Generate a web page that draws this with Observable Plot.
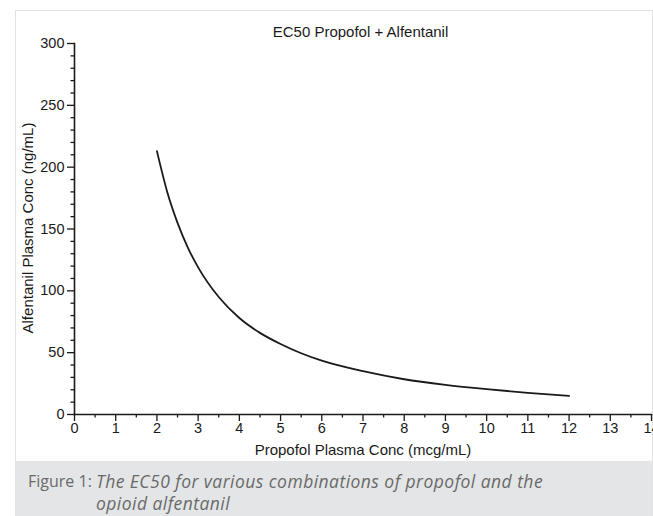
<!DOCTYPE html>
<html><head><meta charset="utf-8">
<script src="https://cdn.jsdelivr.net/npm/d3@7"></script>
<script src="https://cdn.jsdelivr.net/npm/@observablehq/plot@0.6"></script>
<style>
html,body{margin:0;padding:0;background:#fff;overflow:hidden;width:653px;height:516px}
#fig{position:absolute;left:15px;top:10px;width:636px;border:1px solid #e2e2e2;border-bottom:none;background:#fff}
#chart svg{display:block;overflow:visible}
#cap{background:#e4e5e6;height:60px;padding:9px 0 0 12px;box-sizing:border-box;display:flex;font-family:"Open Sans",sans-serif;font-size:16px;line-height:22px;color:#6a6a6a}
#cap .it{font-style:italic;font-size:17.5px;letter-spacing:0.45px}
</style></head><body>
<div id="fig"><div id="chart"></div><div id="cap"><span>Figure 1:&nbsp;</span><span class="it">The EC50 for various combinations of propofol and the<br>opioid alfentanil</span></div></div>
<script>
// Propofol plasma concentration (mcg/mL)
const propofol = [2, 2.25, 2.5, 2.75, 3, 3.5, 4, 4.5, 5, 5.5, 6, 7, 8, 9, 10, 11, 12];
// Alfentanil plasma concentration at EC50 (ng/mL)
const alfentanil = [213, 180, 155, 135, 119, 95, 78, 66, 57, 49.5, 43.5, 35, 28.5, 24, 20.5, 17.5, 15];
const xTicks = [0,1,2,3,4,5,6,7,8,9,10,11,12,13,14];
const xMinorTicks = [0.5,1.5,2.5,3.5,4.5,5.5,6.5,7.5,8.5,9.5,10.5,11.5,12.5,13.5];
const yTicks = [0,50,100,150,200,250,300];
const yMinorTicks = [10,20,30,40,60,70,80,90,110,120,130,140,160,170,180,190,210,220,230,240,260,270,280,290];
const title = "EC50 Propofol + Alfentanil";
const xLabel = "Propofol Plasma Conc (mcg/mL)";
const yLabel = "Alfentanil Plasma Conc (ng/mL)";

const data = propofol.map((x, i) => ({x, y: alfentanil[i]}));
const ink = "#1a1a1a";
const font = "'Liberation Sans', Arial, sans-serif";
const chart = Plot.plot({
  width: 636, height: 450,
  marginLeft: 58, marginRight: 1, marginTop: 32, marginBottom: 47,
  style: {fontFamily: font, fontSize: "14.5px", color: ink, background: "white"},
  x: {domain: [0, 14]},
  y: {domain: [0, 300]},
  marks: [
    Plot.axisX(xMinorTicks, {tickSize: 3.5, strokeWidth: 1.3, label: null, tickFormat: () => ""}),
    Plot.axisX(xTicks, {tickSize: 7, tickPadding: 1, strokeWidth: 1.3, label: null, fontSize: 14.5, fontFamily: font, tickFormat: d => String(d)}),
    Plot.axisY(yMinorTicks, {tickSize: 3.5, strokeWidth: 1.3, label: null, tickFormat: () => ""}),
    Plot.axisY(yTicks, {tickSize: 7, tickPadding: 3, strokeWidth: 1.3, label: null, fontSize: 14.5, fontFamily: font, tickFormat: d => String(d)}),
    Plot.frame({anchor: "left", strokeWidth: 1.6}),
    Plot.frame({anchor: "bottom", strokeWidth: 1.6}),
    Plot.line(data, {x: "x", y: "y", curve: "monotone-x", stroke: ink, strokeWidth: 1.8}),
    Plot.text([title], {frameAnchor: "top", dx: -2.5, dy: -11.5, lineAnchor: "middle", fontSize: 15, fontFamily: font, fill: ink}),
    Plot.text([xLabel], {frameAnchor: "bottom", dy: 35.5, lineAnchor: "middle", fontSize: 15, fontFamily: font, fill: ink}),
    Plot.text([yLabel], {frameAnchor: "left", dx: -46, dy: -1, rotate: -90, textAnchor: "middle", lineAnchor: "middle", fontSize: 15, fontFamily: font, fill: ink})
  ]
});
document.getElementById("chart").appendChild(chart);
</script>
</body></html>
